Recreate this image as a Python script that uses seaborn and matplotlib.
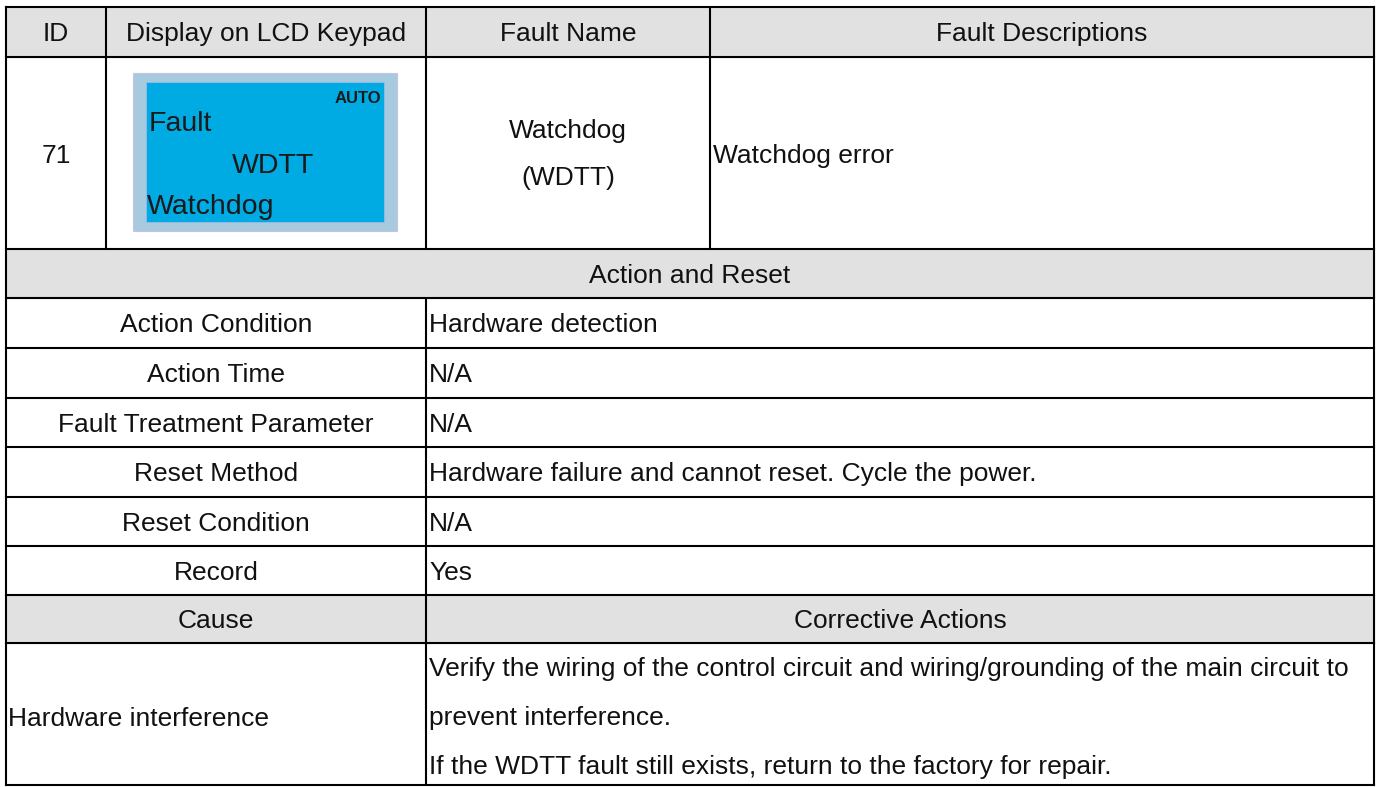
# -*- coding: utf-8 -*-
"""
Fault table for ID 71 (Watchdog / WDTT), redrawn with seaborn + matplotlib.
"""

import matplotlib
matplotlib.use("Agg")
import matplotlib.pyplot as plt
from matplotlib.patches import Rectangle
import seaborn as sns

#%% table contents

header_cols = ["ID", "Display on LCD Keypad", "Fault Name", "Fault Descriptions"]
fault_id = "71"
lcd_mode = "AUTO"
lcd_lines = ["Fault", "WDTT", "Watchdog"]
fault_name = ["Watchdog", "(WDTT)"]
fault_desc = "Watchdog error"

section_title = "Action and Reset"
action_items = ["Action Condition", "Action Time", "Fault Treatment Parameter",
                "Reset Method", "Reset Condition", "Record"]
action_values = ["Hardware detection", "N/A", "N/A",
                 "Hardware failure and cannot reset. Cycle the power.", "N/A", "Yes"]

cause_header = ["Cause", "Corrective Actions"]
causes = ["Hardware interference"]
corrective = ["Verify the wiring of the control circuit and wiring/grounding of the main circuit to",
              "prevent interference.",
              "If the WDTT fault still exists, return to the factory for repair."]

#%% layout (pixels, y grows downwards)

col_x = [6, 106, 426, 710, 1374]
row_y = [7, 57, 249, 298, 348, 398, 447, 497, 546, 595, 643, 785]
split_x = 426
gray = "#e1e1e1"
fs = 19

sns.set_theme(style="white")
plt.rcParams["font.family"] = ["Liberation Sans", "DejaVu Sans"]

fig = plt.figure(figsize=(13.79, 7.87), dpi=100)
ax = fig.add_axes([0, 0, 1, 1])
ax.set_xlim(0, 1379)
ax.set_ylim(787, 0)
ax.axis("off")

# gray header bands: top header, "Action and Reset", "Cause" row
for i in [0, 2, 9]:
    ax.add_patch(Rectangle((col_x[0], row_y[i]), col_x[-1] - col_x[0],
                           row_y[i + 1] - row_y[i], color=gray, zorder=0))

# grid lines
lw = 1.5
for y in row_y:
    ax.plot([col_x[0], col_x[-1]], [y, y], color="black", lw=lw, solid_capstyle="projecting")
for x in [col_x[0], col_x[-1]]:
    ax.plot([x, x], [row_y[0], row_y[-1]], color="black", lw=lw, solid_capstyle="projecting")
for x in col_x[1:-1]:
    ax.plot([x, x], [row_y[0], row_y[2]], color="black", lw=lw)
ax.plot([split_x, split_x], [row_y[3], row_y[-1]], color="black", lw=lw)

def cell_text(x, y_mid, s, ha="center", size=fs, **kw):
    # baseline placed so that cap height is centred on y_mid
    ax.text(x, y_mid + 0.358 * size * 100 / 72, s, ha=ha, va="baseline",
            fontsize=size, color="#111111", **kw)

# header row
for i, name in enumerate(header_cols):
    cell_text((col_x[i] + col_x[i + 1]) / 2, (row_y[0] + row_y[1]) / 2, name)

# fault row
cell_text((col_x[0] + col_x[1]) / 2, 154, fault_id)
cell_text((col_x[2] + col_x[3]) / 2, 129, fault_name[0])
cell_text((col_x[2] + col_x[3]) / 2, 176, fault_name[1])
cell_text(col_x[3] + 3, 154, fault_desc, ha="left")

# LCD keypad picture
ax.add_patch(Rectangle((133, 73), 264, 158, facecolor="#a8cadf",
                       edgecolor="#c4c4ea", lw=0.8, zorder=1))
ax.add_patch(Rectangle((146, 82), 238, 140, facecolor="#00aae2",
                       edgecolor="#9fb6e8", lw=0.6, zorder=2))
ax.text(381, 103, lcd_mode, ha="right", va="baseline", fontsize=12,
        fontweight="bold", color="#1a1a1a", zorder=3)
ax.text(149, 131, lcd_lines[0], ha="left", va="baseline", fontsize=20.5,
        color="#1a1a1a", zorder=3)
ax.text(232, 173, lcd_lines[1], ha="left", va="baseline", fontsize=20.5,
        color="#1a1a1a", zorder=3)
ax.text(147, 214, lcd_lines[2], ha="left", va="baseline", fontsize=20.5,
        color="#1a1a1a", zorder=3)

# action and reset section
cell_text((col_x[0] + col_x[-1]) / 2, (row_y[2] + row_y[3]) / 2, section_title)
for k, (item, val) in enumerate(zip(action_items, action_values)):
    y_mid = (row_y[3 + k] + row_y[4 + k]) / 2
    cell_text((col_x[0] + split_x) / 2, y_mid, item)
    cell_text(split_x + 3, y_mid, val, ha="left")

# cause / corrective actions
y_mid = (row_y[9] + row_y[10]) / 2
cell_text((col_x[0] + split_x) / 2, y_mid, cause_header[0])
cell_text((split_x + col_x[-1]) / 2, y_mid, cause_header[1])
cell_text(col_x[0] + 2, 717, causes[0], ha="left")
for k, line in enumerate(corrective):
    cell_text(split_x + 3, 667 + 49 * k, line, ha="left")

fig.savefig("out.png", dpi=100)
